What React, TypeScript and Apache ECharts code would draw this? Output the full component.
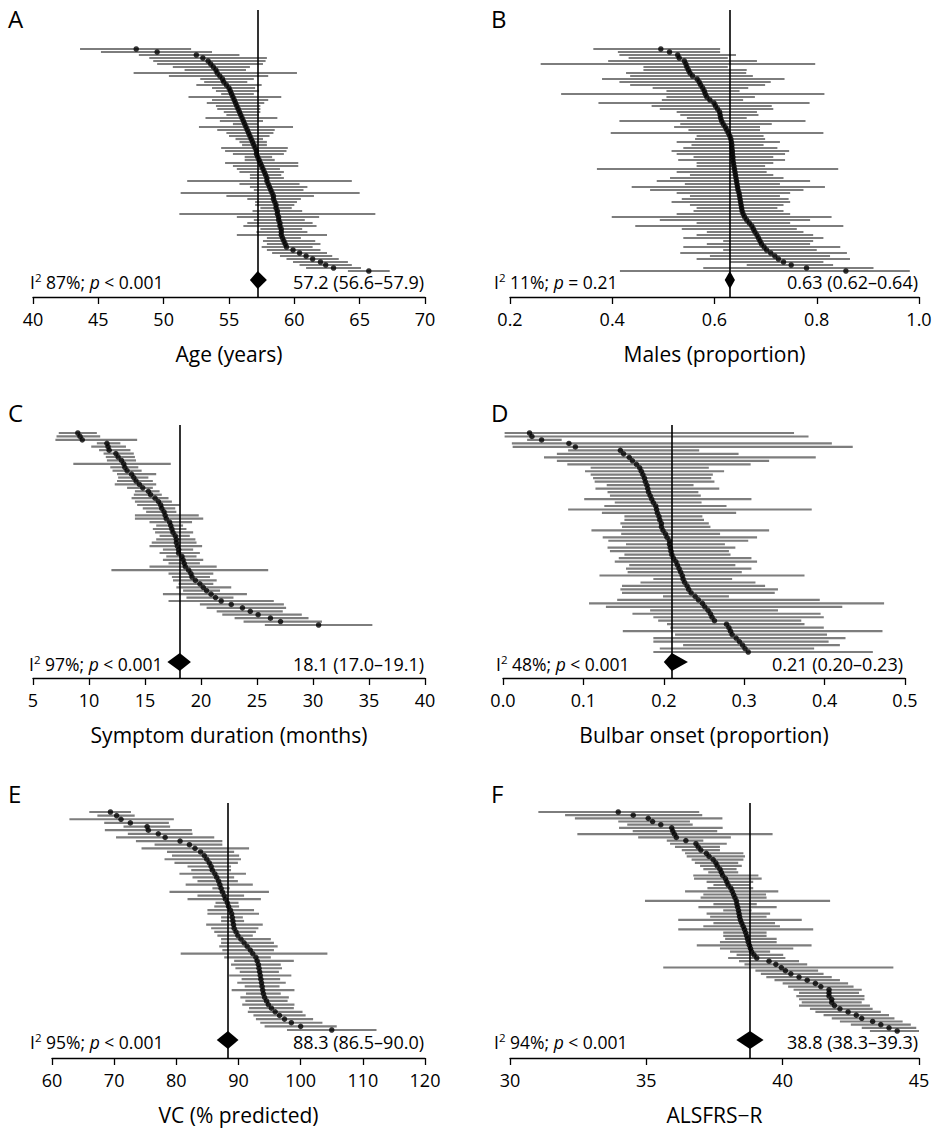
import React, { useEffect, useRef } from "react";
import * as echarts from "echarts";

const FF = "'Open Sans', 'Noto Sans', sans-serif";

// ---------- A: Age (years) ----------
const ageEst = [47.9,49.5,52.5,53.0,53.4,53.6,53.8,54.0,54.1,54.3, 54.5,54.6,54.8,55.0,55.1,55.2,55.3,55.4,55.5,55.6, 55.7,55.8,55.9,56.0,56.1,56.2,56.3,56.4,56.5,56.6, 56.7,56.8,56.9,57.0,57.1,57.1,57.2,57.3,57.4,57.5, 57.6,57.7,57.8,57.9,57.9,58.0,58.1,58.2,58.3,58.4, 58.4,58.5,58.6,58.6,58.7,58.7,58.8,58.8,58.9,58.9, 59.0,59.0,59.0,59.1,59.2,59.3, 59.4,59.9,60.4,60.9,61.4,62.0,62.4,63.0,65.7];
const ageLo = [43.6,45.2,48.1,48.9,49.2,49.5,50.7,51.6,47.7,50.4, 52.8,53.1,52.5,53.7,54.0,54.4,51.9,53.7,53.3,54.0, 54.1,54.6,54.8,53.2,54.3,55.3,52.7,54.1,54.8,55.0, 55.5,55.8,56.0,54.4,54.7,55.3,56.2,56.2,54.7,55.3, 55.6,55.8,56.6,56.6,51.8,55.8,56.6,56.9,51.3,54.8, 56.4,57.0,57.0,57.4,56.8,51.2,55.6,56.9,56.4,56.1, 57.4,57.1,55.6,57.9,57.6,57.9,57.5,57.9,58.3,58.9, 59.4,59.9,60.4,60.9,64.1];
const ageHi = [52.1,53.7,55.8,57.9,57.8,57.6,56.6,56.3,60.2,58.0, 56.9,56.4,57.5,57.0,57.3,56.9,59.0,58.0,57.7,57.4, 57.4,57.4,57.3,58.7,57.6,57.2,59.9,58.5,58.4,58.1, 57.6,57.9,57.9,59.5,59.4,59.2,58.3,58.5,60.3,60.3, 58.9,59.2,59.0,59.2,64.4,60.4,61.0,60.7,65.0,61.5, 60.5,60.2,60.0,59.8,60.6,66.2,61.9,60.8,61.4,61.7, 60.6,61.0,62.5,60.5,61.6,62.0,61.4,62.0,62.5,62.9, 63.4,64.1,64.4,65.1,67.3];
const agePooled = [57.2, 56.6, 57.9];

// ---------- B: Males (proportion) ----------
const malesEst = [0.495,0.512,0.528,0.531,0.541,0.544,0.546,0.549,0.552,0.557, 0.566,0.570,0.573,0.577,0.580,0.582,0.585,0.591,0.599,0.602, 0.606,0.610,0.611,0.612,0.614,0.617,0.621,0.624,0.627,0.630, 0.632,0.633,0.634,0.634,0.635,0.635,0.636,0.636,0.637,0.638, 0.639,0.640,0.641,0.642,0.643,0.644,0.645,0.646,0.648,0.649, 0.650,0.651,0.652,0.653,0.654,0.656,0.659,0.663,0.668,0.673, 0.676,0.679,0.683,0.686,0.689,0.692,0.697,0.702,0.710,0.718, 0.725,0.735,0.750,0.780,0.857];
const malesLo = [0.363,0.411,0.414,0.432,0.392,0.260,0.461,0.461,0.427,0.435, 0.380,0.414,0.435,0.479,0.506,0.300,0.506,0.497,0.373,0.477, 0.493,0.526,0.533,0.546,0.414,0.533,0.521,0.549,0.397,0.565, 0.562,0.526,0.555,0.539,0.516,0.526,0.559,0.529,0.565,0.565, 0.370,0.526,0.552,0.513,0.487,0.542,0.438,0.474,0.526,0.552, 0.536,0.516,0.552,0.565,0.559,0.526,0.399,0.493,0.565,0.445, 0.536,0.585,0.565,0.539,0.617,0.585,0.539,0.617,0.533,0.591, 0.565,0.630,0.663,0.578,0.415];
const malesHi = [0.611,0.611,0.642,0.626,0.683,0.797,0.626,0.663,0.662,0.675, 0.737,0.710,0.699,0.666,0.649,0.815,0.679,0.656,0.786,0.712, 0.715,0.683,0.686,0.663,0.778,0.712,0.689,0.689,0.813,0.696, 0.699,0.728,0.696,0.723,0.746,0.738,0.715,0.738,0.715,0.699, 0.842,0.702,0.715,0.735,0.787,0.728,0.816,0.774,0.748,0.728, 0.745,0.748,0.735,0.723,0.735,0.748,0.829,0.787,0.748,0.852, 0.761,0.774,0.793,0.813,0.793,0.787,0.846,0.800,0.859,0.826, 0.865,0.813,0.832,0.911,0.982];
const malesPooled = [0.63, 0.62, 0.64];

// ---------- C: Symptom duration (months) ----------
const durEst = [9.0,9.2,9.4,11.6,11.7,11.8,12.4,12.6,12.9,13.1, 13.2,13.4,13.8,14.0,14.2,14.5,14.8,15.3,15.5,15.9, 16.2,16.4,16.5,16.7,16.8,16.9,17.2,17.3,17.4,17.5, 17.7,17.8,17.8,17.9,18.0,18.0,18.3,18.4,18.5,18.6, 18.9,19.1,19.2,19.5,19.9,20.2,20.5,20.9,21.3,21.8, 22.7,23.7,24.4,25.1,26.2,27.1,30.5];
const durLo = [7.3,7.1,7.0,10.7,10.2,10.9,11.3,11.5,11.6,8.6, 11.9,12.1,12.5,12.6,12.5,12.3,13.4,14.1,14.0,13.8, 14.1,14.3,14.8,15.1,14.1,14.1,15.4,16.0,15.7,15.9, 16.3,16.0,15.6,15.4,16.6,16.3,16.9,16.6,17.1,15.4, 12.0,17.1,17.4,17.5,18.0,17.8,18.4,16.6,18.7,17.1, 19.9,20.5,21.4,21.9,23.0,23.8,25.7];
const durHi = [10.7,11.0,14.3,12.8,13.3,13.7,14.0,14.1,14.2,17.3, 14.4,14.7,16.0,15.3,15.7,16.0,15.7,16.3,16.5,17.1, 17.4,18.1,17.7,17.8,19.8,20.2,19.2,18.4,18.7,19.3, 19.0,19.5,19.6,20.1,19.3,19.9,19.6,20.2,19.9,21.4, 26.0,21.1,20.8,21.4,21.1,22.7,21.7,24.1,22.9,26.5, 27.4,27.6,27.3,29.0,29.6,30.8,35.3];
const durPooled = [18.1, 17.0, 19.1];

// ---------- D: Bulbar onset (proportion) ----------
const bulbEst = [0.033,0.036,0.048,0.082,0.090,0.146,0.150,0.157,0.161,0.166, 0.170,0.172,0.174,0.176,0.177,0.179,0.180,0.181,0.183,0.185, 0.187,0.190,0.191,0.192,0.194,0.195,0.197,0.197,0.199,0.202, 0.204,0.207,0.207,0.208,0.209,0.210,0.212,0.215,0.217,0.219, 0.221,0.223,0.224,0.226,0.229,0.231,0.234,0.239,0.243,0.248, 0.251,0.255,0.258,0.260,0.263,0.278,0.281,0.283,0.285,0.290, 0.294,0.298,0.301,0.305];
const bulbLo = [0.002,0.002,0.030,0.011,0.012,0.081,0.067,0.051,0.067,0.080, 0.109,0.102,0.109,0.112,0.114,0.129,0.115,0.130,0.133,0.101, 0.139,0.126,0.081,0.123,0.151,0.151,0.146,0.148,0.110,0.147, 0.124,0.131,0.153,0.130,0.133,0.151,0.144,0.139,0.157,0.153, 0.155,0.120,0.187,0.171,0.148,0.146,0.148,0.199,0.142,0.107, 0.128,0.183,0.161,0.187,0.193,0.204,0.208,0.149,0.214,0.187, 0.187,0.224,0.195,0.187];
const bulbHi = [0.362,0.380,0.073,0.409,0.435,0.244,0.293,0.389,0.331,0.308, 0.256,0.275,0.261,0.259,0.263,0.237,0.269,0.243,0.246,0.309, 0.247,0.278,0.384,0.290,0.248,0.250,0.256,0.258,0.331,0.270, 0.316,0.305,0.276,0.289,0.281,0.283,0.309,0.316,0.289,0.309, 0.297,0.375,0.285,0.314,0.326,0.342,0.338,0.281,0.394,0.474, 0.422,0.342,0.395,0.399,0.371,0.375,0.399,0.472,0.403,0.426, 0.405,0.419,0.387,0.460];
const bulbPooled = [0.21, 0.20, 0.23];

// ---------- E: VC (% predicted) ----------
const vcEst = [69.4,70.4,71.1,72.6,75.3,75.5,77.1,78.2,80.6,82.1, 83.0,83.9,84.5,84.9,85.3,85.6,85.8,86.2,86.5,86.8, 87.0,87.2,87.4,87.7,87.9,88.2,88.4,88.7,88.9,89.0, 89.1,89.2,89.3,89.6,89.9,90.4,90.9,91.4,91.9,92.3, 92.8,93.0,93.2,93.3,93.4,93.5,93.6,93.7,93.8,93.9, 94.0,94.2,94.5,94.8,95.3,95.9,96.6,97.4,98.5,100.0,105.0];
const vcLo = [66.0,67.3,62.8,68.4,71.5,68.5,72.2,70.3,73.5,76.5, 74.4,78.5,79.3,78.1,79.7,81.8,82.4,80.5,82.6,83.4, 81.5,85.8,78.9,83.4,81.8,86.3,86.1,85.0,85.0,87.2, 87.2,84.8,85.6,86.1,86.6,87.2,87.2,86.9,87.4,80.7, 87.7,89.3,88.8,89.5,90.2,88.5,90.5,89.8,91.0,88.9, 91.2,90.3,91.1,90.6,91.7,91.5,92.4,92.8,93.5,94.2,97.8];
const vcHi = [72.7,73.3,79.6,78.8,79.0,82.5,82.6,86.1,87.4,87.4, 91.7,89.3,90.1,90.4,89.9,88.8,88.8,91.2,89.3,89.9, 92.3,88.6,94.9,90.9,93.6,90.0,90.1,92.5,93.3,90.7, 90.9,93.9,93.2,92.8,92.3,95.2,95.7,96.3,95.7,104.3, 95.2,98.9,96.8,97.0,96.5,98.5,96.7,97.6,96.6,99.0, 96.8,98.1,97.9,99.0,98.9,100.3,100.8,102.0,103.5,105.8,112.2];
const vcPooled = [88.3, 86.5, 90.0];

// ---------- F: ALSFRS-R ----------
const alsEst = [33.97,34.52,35.07,35.23,35.53,35.93,35.97,36.03,36.1,36.45, 36.82,36.9,37.0,37.2,37.3,37.45,37.55,37.6,37.7,37.75, 37.8,37.9,37.95,38.0,38.1,38.15,38.2,38.25,38.3,38.32, 38.35,38.38,38.4,38.42,38.45,38.5,38.55,38.6,38.64,38.68, 38.71,38.74,38.78,38.82,38.86,38.95,39.05,39.5,39.75,39.95, 40.1,40.3,40.6,40.9,41.2,41.4,41.7,41.7,41.7,41.8, 41.8,41.9,42.1,42.4,42.7,42.9,43.3,43.6,43.9,44.2];
const alsLo = [31.04,32.02,32.38,33.97,34.3,34.0,34.5,32.47,34.7,35.75, 35.87,36.05,36.30,36.42,36.48,36.66,36.78,36.97,37.09,37.27, 36.72,36.75,37.21,37.46,37.24,36.42,37.09,36.99,34.95,37.46, 36.91,37.82,37.21,37.34,36.17,37.46,37.09,36.17,37.82,37.82, 37.89,37.70,36.85,37.70,38.07,38.31,38.0,38.4,38.6,35.62, 39.0,39.2,39.4,39.7,40.0,40.2,40.4,40.6,40.5,40.6, 40.7,40.6,41.0,41.2,41.5,41.8,42.1,42.5,42.9,43.2];
const alsHi = [36.94,37.05,37.79,36.6,36.7,37.8,37.6,39.63,38.1,37.09, 37.95,37.70,37.70,38.56,38.62,38.56,38.37,38.50,38.31,38.37, 39.11,39.23,38.92,38.80,38.92,39.84,39.39,39.41,41.74,39.05, 39.78,38.86,39.54,39.41,40.70,39.72,39.90,41.12,39.41,39.41, 39.78,39.78,41.06,40.39,39.54,40.02,40.1,40.6,40.9,44.06, 41.3,41.5,41.8,42.1,42.4,42.6,42.9,42.8,43.0,43.0, 42.9,43.2,43.3,43.6,43.9,44.1,44.4,44.7,44.9,45.0];
const alsPooled = [38.8, 38.3, 39.3];

// ---------- texts ----------
const panelLetters = ["A", "B", "C", "D", "E", "F"];
const axisTitles = ["Age (years)", "Males (proportion)", "Symptom duration (months)", "Bulbar onset (proportion)", "VC (% predicted)", "ALSFRS\u2212R"];
const i2Values = ["87%", "11%", "97%", "48%", "95%", "94%"];
const pTexts = ["< 0.001", "= 0.21", "< 0.001", "< 0.001", "< 0.001", "< 0.001"];
const summaries = ["57.2 (56.6\u201357.9)", "0.63 (0.62\u20130.64)", "18.1 (17.0\u201319.1)", "0.21 (0.20\u20130.23)", "88.3 (86.5\u201390.0)", "38.8 (38.3\u201339.3)"];
const axisMins = [40, 0.2, 5, 0, 60, 30];
const axisMaxs = [70, 1.0, 40, 0.5, 120, 45];
const axisIntervals = [5, 0.2, 5, 0.1, 10, 5];
const axisDecimals = [0, 1, 0, 1, 0, 0];

const dataSets = [
  [ageEst, ageLo, ageHi, agePooled],
  [malesEst, malesLo, malesHi, malesPooled],
  [durEst, durLo, durHi, durPooled],
  [bulbEst, bulbLo, bulbHi, bulbPooled],
  [vcEst, vcLo, vcHi, vcPooled],
  [alsEst, alsLo, alsHi, alsPooled],
];

// ---------- layout (pixels) ----------
const layout = [
  { left: 33, right: 425, lineTop: 10, axisY: 297, firstY: 49, lastY: 271, diamondY: 280, letterX: 8, letterY: 18, statsX: 30, textRight: 424 },
  { left: 510, right: 919, lineTop: 10, axisY: 297, firstY: 49, lastY: 271, diamondY: 280, letterX: 491, letterY: 18, statsX: 494, textRight: 918 },
  { left: 33, right: 425, lineTop: 425, axisY: 678, firstY: 433, lastY: 625, diamondY: 662, letterX: 8, letterY: 412, statsX: 29, textRight: 424 },
  { left: 503, right: 905, lineTop: 425, axisY: 678, firstY: 433, lastY: 652, diamondY: 662, letterX: 491, letterY: 412, statsX: 496, textRight: 903 },
  { left: 52, right: 425, lineTop: 803, axisY: 1058, firstY: 812, lastY: 1030, diamondY: 1040, letterX: 8, letterY: 793, statsX: 30, textRight: 424 },
  { left: 510, right: 919, lineTop: 803, axisY: 1058, firstY: 812, lastY: 1031, diamondY: 1040, letterX: 491, letterY: 793, statsX: 494, textRight: 918 },
];

function buildOption() {
  const grid: any[] = [];
  const xAxis: any[] = [];
  const yAxis: any[] = [];
  const series: any[] = [];
  const graphic: any[] = [];

  dataSets.forEach((ds, p) => {
    const [est, lo, hi, pooled] = ds as [number[], number[], number[], number[]];
    const L = layout[p];
    const n = est.length;
    const s = (L.lastY - L.firstY) / (n - 1);
    const yMin = 1 - (L.firstY - L.lineTop) / s;
    const yMax = n + (L.axisY - L.lastY) / s;
    const diamondRow = n + (L.diamondY - L.lastY) / s;

    grid.push({ left: L.left, width: L.right - L.left, top: L.lineTop, height: L.axisY - L.lineTop, containLabel: false });
    const dec = axisDecimals[p];
    xAxis.push({
      type: "value", gridIndex: p, min: axisMins[p], max: axisMaxs[p], interval: axisIntervals[p],
      axisLine: { show: true, onZero: false, lineStyle: { color: "#000", width: 1.3 } },
      axisTick: { show: true, length: 7, lineStyle: { color: "#000", width: 1.3 } },
      axisLabel: { color: "#000", fontSize: 18, fontFamily: FF, margin: 13, formatter: (v: number) => v.toFixed(dec) },
      splitLine: { show: false },
      name: axisTitles[p], nameLocation: "middle", nameGap: 46,
      nameTextStyle: { color: "#000", fontSize: 21, fontFamily: FF },
    });
    yAxis.push({ type: "value", gridIndex: p, inverse: true, min: yMin, max: yMax, show: false });

    series.push({
      type: "custom", xAxisIndex: p, yAxisIndex: p, silent: true, z: 2,
      data: est.map((_, k) => [k + 1, lo[k], hi[k]]),
      encode: { x: [1, 2], y: 0 },
      renderItem: (_params: any, api: any) => {
        const a = api.coord([api.value(1), api.value(0)]);
        const b = api.coord([api.value(2), api.value(0)]);
        return { type: "line", shape: { x1: a[0], y1: a[1], x2: b[0], y2: b[1] }, style: { stroke: "#7d7d7d", lineWidth: 2.2 } };
      },
    });
    series.push({
      type: "scatter", xAxisIndex: p, yAxisIndex: p, silent: true, z: 4,
      symbol: "circle", symbolSize: 5.5, itemStyle: { color: "#000" },
      data: est.map((v, k) => [v, k + 1]),
      markLine: {
        silent: true, symbol: "none", label: { show: false },
        lineStyle: { color: "#000", width: 1.6, type: "solid" },
        data: [{ xAxis: pooled[0] }],
      },
    });
    series.push({
      type: "custom", xAxisIndex: p, yAxisIndex: p, silent: true, z: 5,
      data: [[pooled[0], pooled[1], pooled[2], diamondRow]],
      renderItem: (_params: any, api: any) => {
        const c = api.coord([api.value(0), api.value(3)]);
        const l = api.coord([api.value(1), api.value(3)]);
        const r = api.coord([api.value(2), api.value(3)]);
        return {
          type: "polygon",
          shape: { points: [[l[0], c[1]], [c[0], c[1] - 9], [r[0], c[1]], [c[0], c[1] + 9]] },
          style: { fill: "#000" },
        };
      },
    });

    graphic.push({
      type: "text", x: L.letterX, y: L.letterY,
      style: { text: panelLetters[p], fontSize: 24, fontFamily: FF, fill: "#000", verticalAlign: "middle", align: "left" },
    });
    graphic.push({
      type: "text", x: L.statsX, y: L.diamondY + 2,
      style: {
        text: `{n|I}{s|2}{n| ${i2Values[p]}; }{i|p}{n| ${pTexts[p]}}`,
        verticalAlign: "middle", align: "left",
        rich: {
          n: { fontSize: 17.5, fontFamily: FF, fill: "#000", lineHeight: 22 },
          s: { fontSize: 11.5, fontFamily: FF, fill: "#000", lineHeight: 12, verticalAlign: "top" },
          i: { fontSize: 17.5, fontFamily: FF, fill: "#000", fontStyle: "italic", lineHeight: 22 },
        },
      },
    });
    graphic.push({
      type: "text", x: L.textRight, y: L.diamondY + 2,
      style: { text: summaries[p], fontSize: 18, fontFamily: FF, fill: "#000", verticalAlign: "middle", align: "right" },
    });
  });

  return { animation: false, backgroundColor: "#fff", grid, xAxis, yAxis, series, graphic };
}

export default function App() {
  const ref = useRef<HTMLDivElement>(null);
  useEffect(() => {
    const chart = echarts.init(ref.current as HTMLDivElement, null, { renderer: "svg" });
    chart.setOption(buildOption() as any);
    return () => chart.dispose();
  }, []);
  return <div ref={ref} style={{ position: "absolute", left: 0, top: 0, width: 935, height: 1129, background: "#fff" }} />;
}
